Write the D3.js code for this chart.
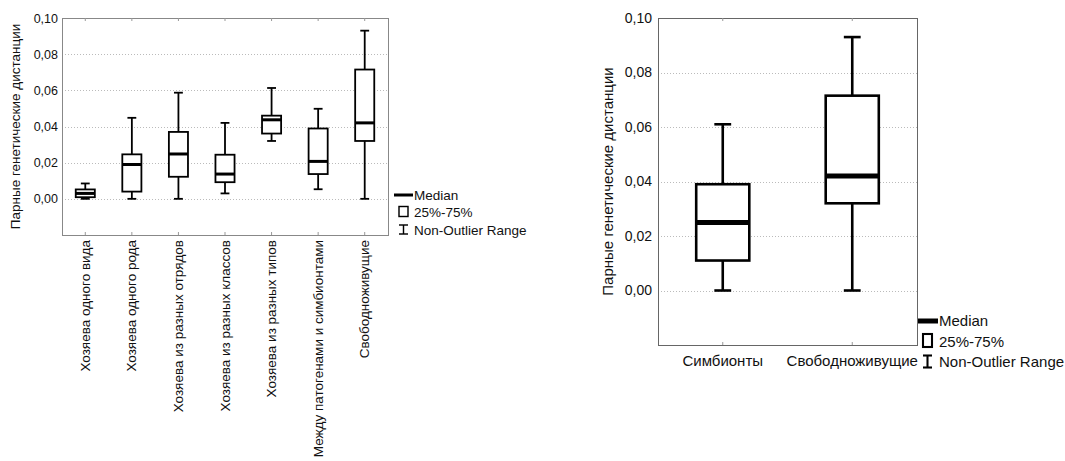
<!DOCTYPE html>
<html lang="ru">
<head>
<meta charset="UTF-8">
<script src="https://d3js.org/d3.v7.min.js"></script>
<style>
  body { margin: 0; background: #fff; }
  svg text { font-family: "Liberation Sans", Arial, sans-serif; fill: #111; }
</style>
</head>
<body>
<div id="chart"></div>
<script>
// --- data ---
var cats1 = ["Хозяева одного вида", "Хозяева одного рода", "Хозяева из разных отрядов",
             "Хозяева из разных классов", "Хозяева из разных типов",
             "Между патогенами и симбионтами", "Свободноживущие"];
var min1 = [0.000, 0.000, 0.000, 0.003, 0.032, 0.0053, 0.000];
var q1_1 = [0.0009, 0.004, 0.0122, 0.0092, 0.0361, 0.0137, 0.032];
var med1 = [0.003, 0.019, 0.0248, 0.0137, 0.0437, 0.0207, 0.042];
var q3_1 = [0.0052, 0.0246, 0.037, 0.0244, 0.046, 0.0389, 0.0715];
var max1 = [0.0085, 0.0448, 0.0587, 0.042, 0.0613, 0.0498, 0.093];

var cats2 = ["Симбионты", "Свободноживущие"];
var min2 = [0.000, 0.000];
var q1_2 = [0.011, 0.032];
var med2 = [0.025, 0.042];
var q3_2 = [0.039, 0.0715];
var max2 = [0.061, 0.093];

var yTicks = [0, 0.02, 0.04, 0.06, 0.08, 0.10];
var yTitle = "Парные генетические дистанции";
var legendLabels = ["Median", "25%-75%", "Non-Outlier Range"];

var svg = d3.select("#chart").append("svg")
  .attr("width", 1065).attr("height", 461);

var fmt = function(v) { return d3.format(".2f")(v).replace(".", ","); };

function drawChart(o) {
  var g = svg.append("g");
  var x = d3.scaleBand().domain(o.cats).range([o.left, o.right]);
  var y = d3.scaleLinear().domain([-0.02, 0.10]).range([o.bottom, o.top]);

  // grid
  g.selectAll(".grid").data(yTicks.slice(0, 5)).enter().append("line")
    .attr("x1", o.left).attr("x2", o.right)
    .attr("y1", function(d) { return Math.round(y(d)) + 0.5; })
    .attr("y2", function(d) { return Math.round(y(d)) + 0.5; })
    .attr("stroke", "#bbb").attr("stroke-width", 1)
    .attr("stroke-dasharray", "1,2");

  // frame
  g.append("rect")
    .attr("x", o.left + 0.5).attr("y", o.top + 0.5)
    .attr("width", o.right - o.left).attr("height", o.bottom - o.top)
    .attr("fill", "none").attr("stroke", o.frame).attr("stroke-width", 1);

  // y axis
  var ya = g.append("g")
    .attr("transform", "translate(" + o.left + ",0)")
    .call(d3.axisLeft(y).tickValues(yTicks).tickFormat(fmt).tickSize(0).tickPadding(o.pad));
  ya.select(".domain").remove();
  ya.selectAll("text").style("font-size", o.fs + "px")
    .style("font-family", "Liberation Sans, Arial, sans-serif").attr("fill", "#111");

  // small ticks on the frame at categories
  g.selectAll(".tk").data(o.cats).enter().append("line")
    .attr("x1", function(d) { return x(d) + x.bandwidth() / 2; })
    .attr("x2", function(d) { return x(d) + x.bandwidth() / 2; })
    .attr("y1", o.top).attr("y2", o.top + 3)
    .attr("stroke", "#999");
  g.selectAll(".tkb").data(o.cats).enter().append("line")
    .attr("x1", function(d) { return x(d) + x.bandwidth() / 2; })
    .attr("x2", function(d) { return x(d) + x.bandwidth() / 2; })
    .attr("y1", o.bottom).attr("y2", o.bottom - 3)
    .attr("stroke", "#999");

  // y title
  g.append("text")
    .attr("transform", "translate(" + o.titleX + "," + ((o.top + o.bottom) / 2) + ") rotate(-90)")
    .attr("text-anchor", "middle")
    .style("font-size", o.tfs + "px")
    .text(yTitle);

  // boxes
  var bw = x.bandwidth() * 0.41, cw = x.bandwidth() * o.cap;
  o.cats.forEach(function(c, i) {
    var cx = x(c) + x.bandwidth() / 2;
    g.append("line").attr("x1", cx).attr("x2", cx)
      .attr("y1", y(o.max[i])).attr("y2", y(o.min[i]))
      .attr("stroke", "#000").attr("stroke-width", o.sw);
    [o.max[i], o.min[i]].forEach(function(v) {
      g.append("line").attr("x1", cx - cw / 2).attr("x2", cx + cw / 2)
        .attr("y1", y(v)).attr("y2", y(v))
        .attr("stroke", "#000").attr("stroke-width", o.sw);
    });
    g.append("rect")
      .attr("x", cx - bw / 2).attr("y", y(o.q3[i]))
      .attr("width", bw).attr("height", y(o.q1[i]) - y(o.q3[i]))
      .attr("fill", "#fff").attr("stroke", "#000").attr("stroke-width", o.sw);
    g.append("line").attr("x1", cx - bw / 2).attr("x2", cx + bw / 2)
      .attr("y1", y(o.med[i])).attr("y2", y(o.med[i]))
      .attr("stroke", "#000").attr("stroke-width", o.mw);
  });

  // x labels
  if (o.rotate) {
    o.cats.forEach(function(c) {
      g.append("text")
        .attr("transform", "translate(" + (x(c) + x.bandwidth() / 2 + 4.5) + "," + (o.bottom + 5) + ") rotate(-90)")
        .attr("text-anchor", "end")
        .style("font-size", o.xfs + "px")
        .text(c);
    });
  } else {
    o.cats.forEach(function(c) {
      g.append("text")
        .attr("x", x(c) + x.bandwidth() / 2).attr("y", o.bottom + 21)
        .attr("text-anchor", "middle")
        .style("font-size", o.xfs + "px")
        .text(c);
    });
  }

  // legend
  var L = o.leg;
  g.append("line").attr("x1", L.x).attr("x2", L.x + L.lw)
    .attr("y1", L.y).attr("y2", L.y).attr("stroke", "#000").attr("stroke-width", o.mw);
  g.append("rect").attr("x", L.bx).attr("y", L.y + L.dy - L.bh / 2 - 1)
    .attr("width", L.bwd).attr("height", L.bh)
    .attr("fill", "#fff").attr("stroke", "#000").attr("stroke-width", o.sw * 0.8);
  var iy = L.y + 2 * L.dy;
  g.append("line").attr("x1", L.bx + L.bwd / 2).attr("x2", L.bx + L.bwd / 2)
    .attr("y1", iy - L.bh / 2).attr("y2", iy + L.bh / 2 - 1)
    .attr("stroke", "#000").attr("stroke-width", o.sw * 0.8);
  [iy - L.bh / 2, iy + L.bh / 2 - 1].forEach(function(v) {
    g.append("line").attr("x1", L.bx).attr("x2", L.bx + L.bwd)
      .attr("y1", v).attr("y2", v).attr("stroke", "#000").attr("stroke-width", o.sw * 0.8);
  });
  legendLabels.forEach(function(t, i) {
    g.append("text").attr("x", L.tx).attr("y", L.y + i * L.dy + L.fs * 0.36)
      .style("font-size", L.fs + "px").text(t);
  });
}

drawChart({
  cats: cats1, min: min1, q1: q1_1, med: med1, q3: q3_1, max: max1,
  left: 62, right: 388, top: 18, bottom: 235, frame: "#888",
  fs: 12.5, pad: 4, tfs: 13.5, titleX: 20, xfs: 13.5, rotate: true,
  sw: 1.8, mw: 3, cap: 0.19,
  leg: { x: 394, lw: 19, y: 195, dy: 17.5, bx: 399, bwd: 9, bh: 10, tx: 414, fs: 13.5 }
});

drawChart({
  cats: cats2, min: min2, q1: q1_2, med: med2, q3: q3_2, max: max2,
  left: 658, right: 917, top: 18, bottom: 345, frame: "#666",
  fs: 14, pad: 6, tfs: 15, titleX: 613, xfs: 15, rotate: false,
  sw: 2.6, mw: 5, cap: 0.13,
  leg: { x: 918, lw: 20, y: 321, dy: 20.5, bx: 923, bwd: 9, bh: 13, tx: 939, fs: 15 }
});
</script>
</body>
</html>
